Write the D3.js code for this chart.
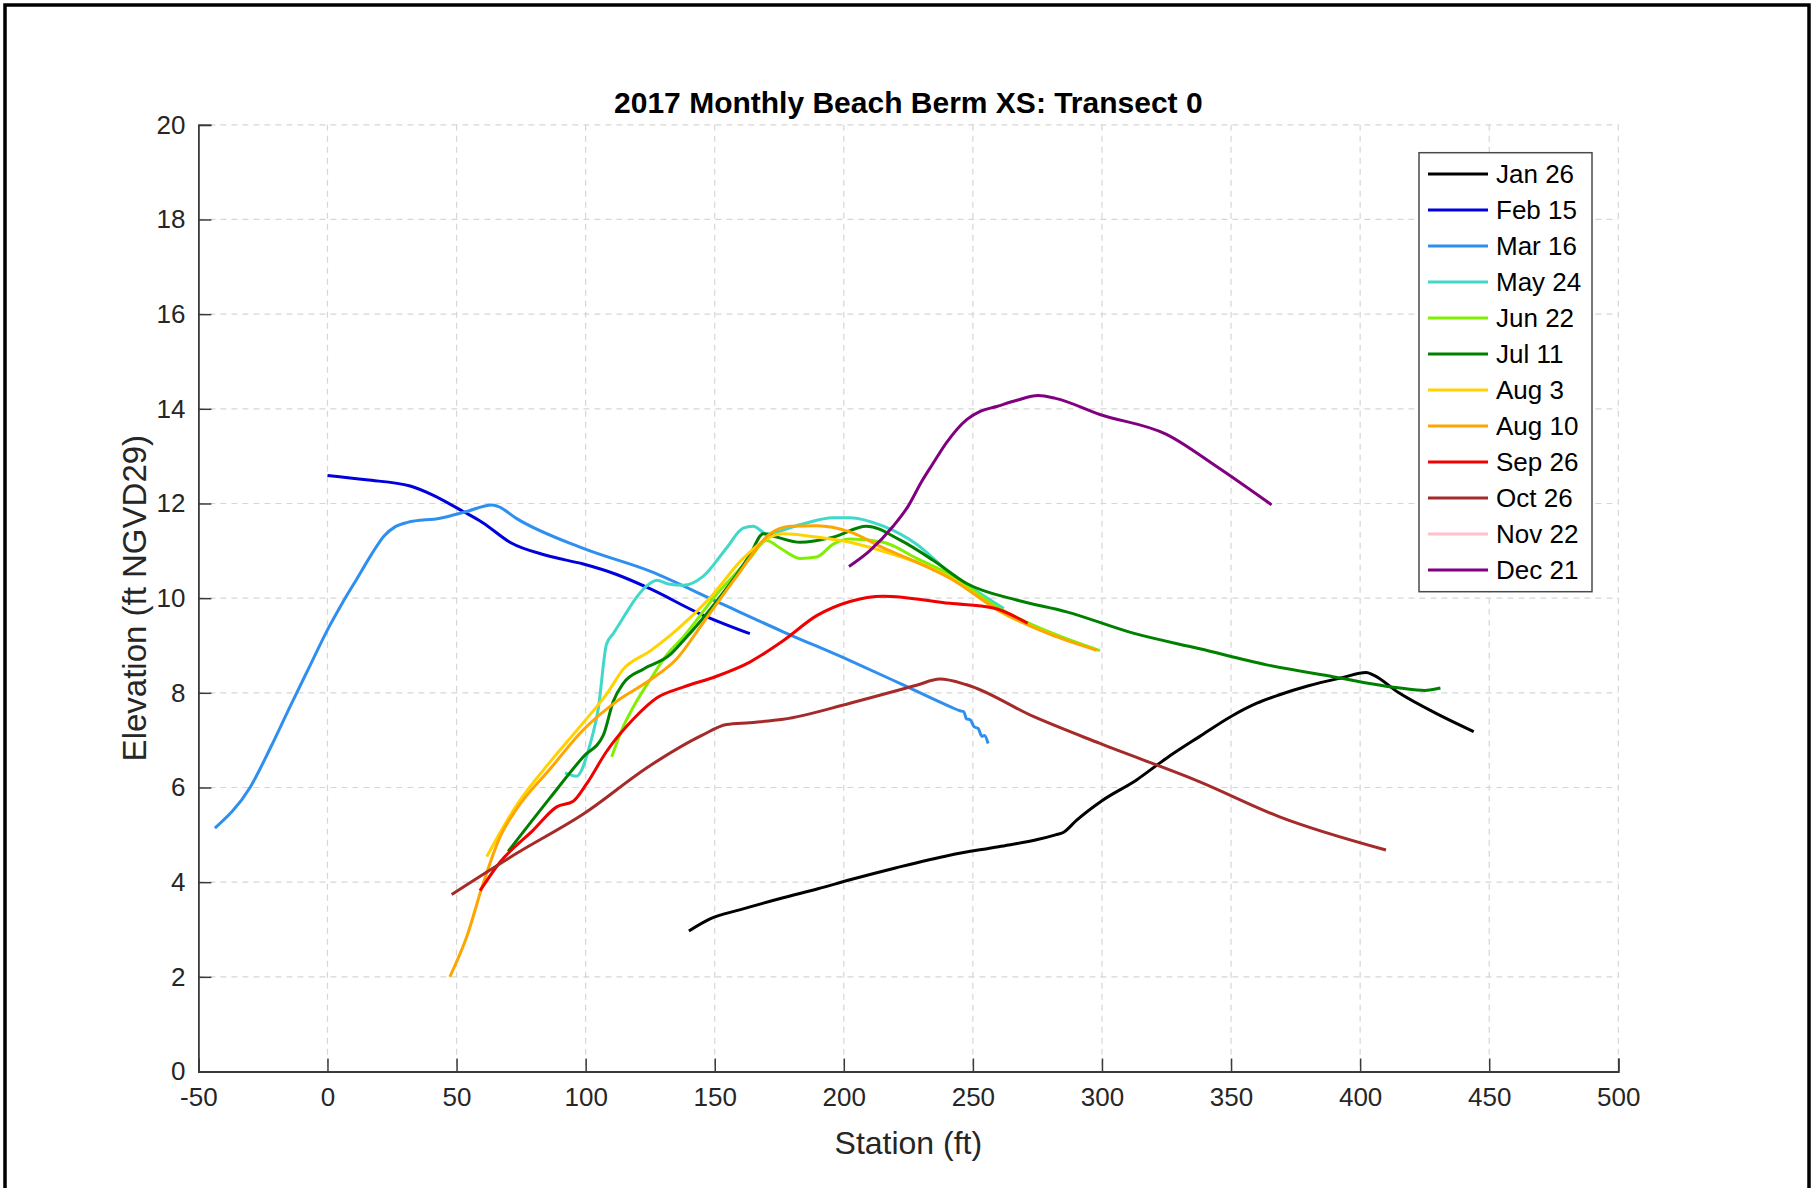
<!DOCTYPE html>
<html><head><meta charset="utf-8">
<script src="https://cdn.jsdelivr.net/npm/d3@7"></script>
<style>
html,body{margin:0;padding:0;background:#fff;}
text{font-family:"Liberation Sans",Arial,Helvetica,sans-serif;}
</style></head>
<body><svg id="chart" width="1814" height="1188"></svg>
<script>
// ---- data (station ft, elevation ft NGVD29) ----
const seriesNames = ["Jan 26","Feb 15","Mar 16","May 24","Jun 22","Jul 11","Aug 3","Aug 10","Sep 26","Oct 26","Nov 22","Dec 21"];
const seriesColors = ["#000000","#0000dc","#2f8ff0","#40d8c8","#80f000","#008000","#ffd200","#ffa500","#f00000","#a52a2a","#ffc0cb","#800080"];
const xTicks = [-50,0,50,100,150,200,250,300,350,400,450,500];
const yTicks = [0,2,4,6,8,10,12,14,16,18,20];

const jan26 = [[140,2.97],[148,3.22],[160,3.42],[176.5,3.67],[190,3.86],[202.4,4.05],[220,4.3],[241,4.57],[260,4.75],[275,4.9],[282,5.0],[285,5.05],[290,5.3],[300,5.72],[313.4,6.16],[325,6.62],[337.9,7.08],[350,7.5],[360,7.78],[368.8,7.96],[380,8.15],[393,8.32],[402.3,8.43],[405,8.38],[415,8.0],[430,7.55],[444,7.18]];
const feb15 = [[0,12.59],[15,12.5],[32,12.37],[40,12.2],[52.6,11.83],[60,11.6],[71,11.17],[85,10.9],[99.1,10.72],[112,10.5],[124.9,10.2],[144.3,9.67],[163.6,9.25]];
const mar16 = [[-43.6,5.14],[-30,6.0],[-22,6.85],[-14.5,7.71],[-7,8.55],[0,9.33],[6,9.92],[11.3,10.4],[17,10.92],[22,11.32],[26,11.5],[31,11.6],[43.6,11.69],[53.9,11.83],[63.6,11.97],[66,11.94],[73.3,11.68],[99.1,11.05],[124.9,10.57],[150.7,9.93],[176.5,9.29],[202.4,8.68],[221.7,8.2],[241.1,7.71],[245,7.62],[246.5,7.6],[247.5,7.45],[249,7.43],[250.5,7.28],[252,7.25],[253.5,7.08],[254.5,7.1],[255.9,6.93]];
const may24 = [[92,6.31],[96.5,6.24],[101.7,6.91],[104.9,7.67],[108.1,9.03],[110.7,9.25],[124.9,10.31],[127.5,10.38],[132,10.3],[137.8,10.27],[145.5,10.46],[154.6,11.06],[161,11.48],[164.9,11.52],[170.1,11.36],[183,11.55],[195.9,11.7],[202.4,11.7],[215.3,11.52],[228.2,11.14],[241.1,10.53],[250,10.2],[262,9.78]];
const jun22 = [[110.1,6.65],[114.6,7.29],[119.7,7.82],[124.9,8.27],[131.4,8.8],[137.8,9.18],[150.7,10.08],[163.6,10.84],[170.1,11.22],[175.3,11.06],[183,10.84],[189.5,10.87],[195.9,11.14],[202.4,11.25],[215.3,11.18],[228.2,10.84],[241.1,10.5],[260.4,9.78],[279.8,9.28],[299.2,8.89]];
const jul11 = [[70,4.65],[86.2,5.78],[99.1,6.65],[106.8,7.1],[110.7,7.82],[114.6,8.2],[122.3,8.5],[132.6,8.8],[137.8,9.1],[150.7,9.93],[163.6,10.91],[168.8,11.36],[174,11.29],[183,11.18],[195.9,11.29],[208.8,11.52],[221.7,11.23],[234.6,10.8],[247.6,10.31],[266.9,9.96],[286.3,9.71],[312.1,9.26],[337.9,8.93],[363.8,8.59],[389.5,8.34],[415.4,8.1],[425,8.05],[431.1,8.1]];
const aug3 = [[61.7,4.54],[73.3,5.63],[86.2,6.54],[99.1,7.37],[108.1,7.97],[114.6,8.5],[124.9,8.88],[135.3,9.33],[148.2,10.01],[161,10.84],[171.4,11.29],[176.5,11.36],[189.5,11.29],[202.4,11.18],[215.3,10.99],[228.2,10.76],[241.1,10.44],[260.4,9.72],[282.4,9.19]];
const aug10 = [[47.4,2.0],[53.9,2.84],[60.3,3.97],[66.8,4.95],[73.3,5.55],[86.2,6.39],[99.1,7.22],[112,7.82],[124.9,8.27],[135.3,8.72],[145.5,9.48],[158.5,10.46],[171.4,11.36],[179.2,11.52],[189.5,11.53],[202.4,11.4],[215.3,11.06],[228.2,10.76],[241.1,10.42],[260.4,9.73],[279.8,9.24],[298,8.9]];
const sep26 = [[59.1,3.82],[66.8,4.42],[79.7,5.1],[88.8,5.59],[95.2,5.71],[100.4,6.08],[108.1,6.76],[118.4,7.44],[127.5,7.89],[137.8,8.12],[150.7,8.35],[163.6,8.65],[176.5,9.1],[189.5,9.63],[202.4,9.93],[215.3,10.04],[241.1,9.89],[257.9,9.79],[271.2,9.47]];
const oct26 = [[48.1,3.74],[73.3,4.61],[99.1,5.44],[124.9,6.46],[145,7.1],[154.6,7.33],[163.6,7.37],[176.5,7.44],[202.4,7.78],[228.2,8.16],[237.2,8.29],[247.6,8.17],[273.4,7.5],[299.2,6.93],[337.9,6.12],[368.8,5.38],[410,4.68]];
const nov22 = [];
const dec21 = [[202,10.67],[210,11.0],[219.1,11.52],[225,11.95],[230.1,12.46],[234.6,12.85],[240,13.3],[247.6,13.77],[253,13.95],[259.2,14.05],[267,14.18],[275.3,14.28],[282,14.22],[299.2,13.88],[325,13.46],[344.4,12.78],[365.7,11.97]];

const allSeries = [jan26,feb15,mar16,may24,jun22,jul11,aug3,aug10,sep26,oct26,nov22,dec21];

// ---- layout ----
const svg = d3.select("#chart");
const L = 198.4, R = 1618.3, T = 124.8, B = 1071.5;
const x = d3.scaleLinear().domain([-50,500]).range([L,R]);
const y = d3.scaleLinear().domain([0,20]).range([B,T]);
const axisColor = "#3a3a3a", textColor = "#262626";

// outer frame
svg.append("rect").attr("x",5).attr("y",5).attr("width",1804).attr("height",1200)
  .attr("fill","none").attr("stroke","#000").attr("stroke-width",3.5);

// grid
const grid = svg.append("g");
grid.selectAll("line.gx").data(xTicks.slice(1)).join("line")
  .attr("x1",d=>x(d)).attr("x2",d=>x(d)).attr("y1",T).attr("y2",B)
  .attr("stroke","#d6d6d6").attr("stroke-width",1.2).attr("stroke-dasharray","6,5");
grid.selectAll("line.gy").data(yTicks.slice(1)).join("line")
  .attr("y1",d=>y(d)).attr("y2",d=>y(d)).attr("x1",L).attr("x2",R)
  .attr("stroke","#d6d6d6").attr("stroke-width",1.2).attr("stroke-dasharray","6,5");

// axes
const fmt = d => String(d);
const xAxis = d3.axisBottom(x).tickValues(xTicks).tickSize(-13).tickPadding(24).tickFormat(fmt);
const yAxis = d3.axisLeft(y).tickValues(yTicks).tickSize(-13).tickPadding(26).tickFormat(fmt);
const gx = svg.append("g").attr("transform",`translate(0,${B})`).call(xAxis);
const gy = svg.append("g").attr("transform",`translate(${L},0)`).call(yAxis);
[gx,gy].forEach(g=>{
  g.select(".domain").attr("stroke",axisColor).attr("stroke-width",1.8);
  g.selectAll(".tick line").attr("stroke",axisColor).attr("stroke-width",1.5);
  g.selectAll(".tick text").attr("fill",textColor).style("font-size","26px")
   .style("font-family",'"Liberation Sans",Arial,sans-serif');
});
gx.selectAll(".tick text").attr("dy","0.71em").attr("y",16);
gy.selectAll(".tick text").attr("x",-13);

// lines
const line = d3.line().x(d=>x(d[0])).y(d=>y(d[1])).curve(d3.curveMonotoneX);
const plot = svg.append("g");
allSeries.forEach((s,i)=>{
  if(!s.length) return;
  plot.append("path").datum(s).attr("d",line).attr("fill","none")
    .attr("stroke",seriesColors[i]).attr("stroke-width",3)
    .attr("stroke-linejoin","round").attr("stroke-linecap","butt");
});

// title & labels
svg.append("text").attr("x",(L+R)/2).attr("y",113).attr("text-anchor","middle")
  .style("font-size","30px").style("font-weight","bold").attr("fill","#000")
  .text("2017 Monthly Beach Berm XS: Transect 0");
svg.append("text").attr("x",(L+R)/2).attr("y",1154).attr("text-anchor","middle")
  .style("font-size","32px").attr("fill",textColor).text("Station (ft)");
svg.append("text").attr("transform",`translate(146,${(T+B)/2}) rotate(-90)`).attr("text-anchor","middle")
  .style("font-size","33px").attr("fill",textColor).text("Elevation (ft NGVD29)");

// legend
const lg = svg.append("g");
lg.append("rect").attr("x",1419).attr("y",152.7).attr("width",173).attr("height",439)
  .attr("fill","#fff").attr("stroke","#4a4a4a").attr("stroke-width",1.5);
seriesNames.forEach((n,i)=>{
  const yy = 174 + i*36;
  lg.append("line").attr("x1",1428).attr("x2",1488).attr("y1",yy).attr("y2",yy)
    .attr("stroke",seriesColors[i]).attr("stroke-width",3);
  lg.append("text").attr("x",1496).attr("y",yy).attr("dy","0.35em")
    .style("font-size","26px").attr("fill","#000").text(n);
});
</script></body></html>
